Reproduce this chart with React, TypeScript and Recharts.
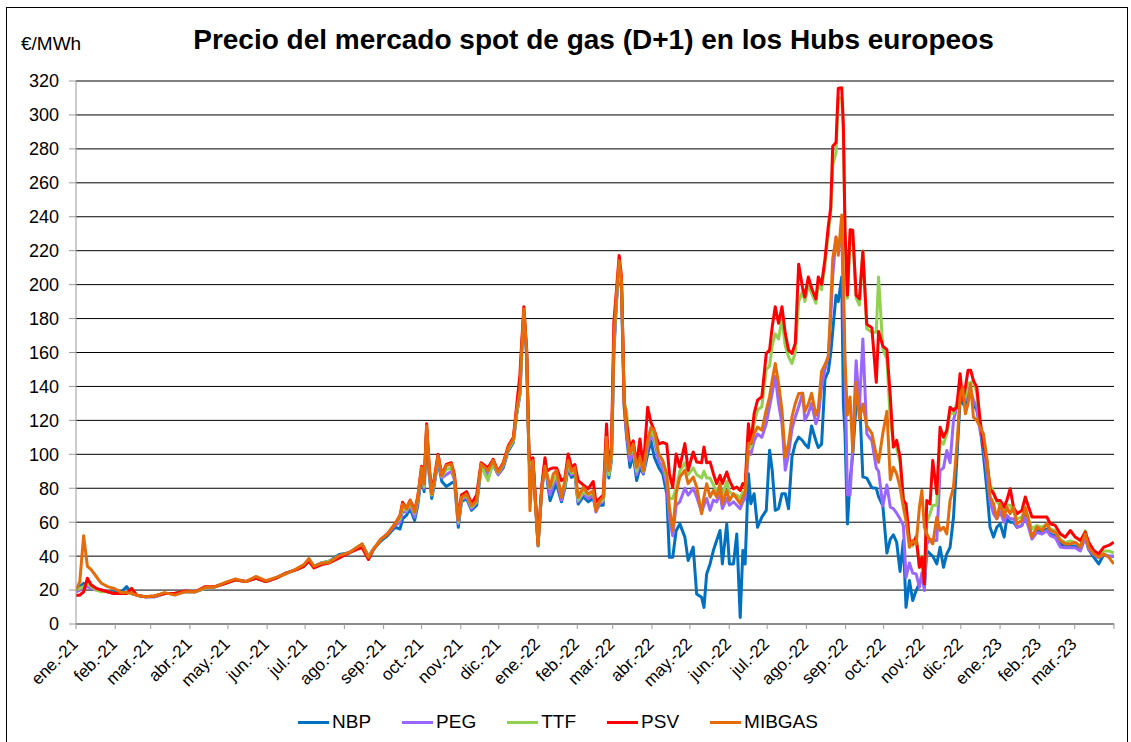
import React from "react";
import { LineChart, Line, XAxis, YAxis, CartesianGrid } from "recharts";

// day index since 1 Jan 2021 for each sampled point
const days = [
  0, 3, 6, 9, 12, 16, 20, 25, 30, 36,
  40, 44, 48, 55, 62, 70, 78, 86, 94, 102,
  110, 118, 126, 134, 142, 150, 158, 166, 174, 180,
  184, 188, 194, 200, 208, 216, 222, 226, 231, 235,
  241, 246, 252, 256, 258, 261, 264, 267.5, 270, 273,
  275, 277, 279, 281, 283, 286, 289, 292.5, 296.5, 299,
  302, 304.5, 308.5, 312.5, 316.5, 320, 325.5, 329.5, 333.5, 337.5,
  341.5, 345.5, 348, 350.7, 352, 353.8, 356, 357.8, 358.6, 361,
  365, 368, 370.5, 372, 374.5, 377, 379.6, 383.5, 386.2, 388.8,
  391.4, 394.1, 396.7, 400.7, 404.6, 408.6, 410.7, 413.8, 416.5, 419.1,
  420.9, 423, 424.9, 427, 429.1, 430.9, 433.1, 435, 437.6, 440.2,
  442.9, 445.5, 448.2, 451.6, 454.2, 456.9, 460.3, 463.5, 466.7, 468.8,
  471.4, 474.1, 477, 481, 483.6, 487.6, 490.3, 494.2, 496.1, 498.2,
  500.9, 503.5, 506.1, 508.8, 510.6, 514.1, 516.2, 519.4, 522, 524.7,
  526.8, 528.6, 531.2, 533.1, 535.7, 538.4, 541.8, 545.3, 547.9, 550,
  552.4, 555, 557.7, 560.3, 562.9, 565.6, 568.2, 570.9, 574, 575.8,
  578.5, 581.1, 584.5, 586.4, 589, 591.7, 594.3, 596.2, 597.8, 600.4,
  602.2, 604.9, 606.2, 607.5, 609.4, 611.5, 613.6, 616.3, 618.9, 621.6,
  624.7, 628.7, 632.2, 634, 637.4, 640.6, 643.3, 645.7, 648.3, 651,
  653.6, 655.7, 658.4, 661, 663.7, 666.3, 668.2, 670.2, 672.1, 674.7,
  676.8, 680, 682.6, 685.3, 687.9, 690.5, 693.2, 695.8, 698.4, 700.5,
  702.6, 704.7, 706.8, 708.9, 711.6, 714.2, 716.8, 719.5, 722.1, 724.8,
  727.4, 730.1, 733.2, 735.3, 738, 740.6, 743.3, 747.2, 749.9, 752.5,
  755.2, 759.1, 763.1, 767, 769.7, 773.6, 777.6, 781.5, 785.5, 789.4,
  793.4, 797.3, 800, 804, 807.9, 811.9, 815.8, 819.8,
];

const nbp = [
  20, 22, 24, 23, 22, 21, 20, 19, 19, 19,
  22, 18, 17, 16, 16, 18, 18, 19, 19, 21,
  22, 24, 26, 25, 27, 25, 27, 30, 32, 34,
  37, 34, 36, 37, 41, 42, 45, 47, 40, 44,
  49, 52, 57, 56, 62, 64, 68, 61, 70, 88,
  78, 112, 88, 74, 82, 96, 84, 81, 83, 84,
  57, 72, 74, 67, 70, 92, 88, 94, 88, 92,
  102, 107, 123, 135, 158, 182, 158, 99, 90, 95,
  46, 79, 94, 86, 72.7, 78, 82.5, 72, 80, 92,
  86.4, 88, 70.7, 75, 72, 74, 68, 70, 70, 104,
  86, 96, 160, 190, 210, 198, 127, 110, 92.3, 100,
  84.5, 92, 88.4, 100, 108, 98.2, 92.3, 88.4, 76.6, 39.3,
  39.3, 55, 59, 51.2, 37.4, 45.3, 17.7, 15.7, 9.8, 29.5,
  35.4, 43.3, 49.2, 55.1, 35.4, 59, 35.4, 35.4, 53.1, 3.9,
  43.3, 35.4, 88.6, 70.9, 76.8, 57, 63, 67, 102.4, 90.6,
  67, 68, 76.8, 76.8, 68, 98.4, 106.3, 110.2, 108, 106,
  103.9, 116.7, 108, 104, 106, 144.5, 148.8, 159.5, 172.4, 193.8,
  190, 204.5, 129.6, 112.4, 58.9, 84.6, 100, 129.6, 133.8, 86.7,
  86, 80.3, 80, 75, 69.6, 41.8, 50, 52.5, 48.2, 31,
  49.2, 9.8, 25.6, 13.8, 19.7, 24, 27.5, 22, 43.3, 41.3,
  40, 35.4, 45.2, 33.4, 41.3, 45.2, 62.9, 96.4, 131.8, 130,
  128, 135, 136, 130, 126, 116, 100, 80, 57, 51.2,
  57, 59, 51.2, 62, 60, 60, 57, 58, 64, 58,
  52, 55, 54, 56, 53, 52, 47, 46, 46, 46,
  44, 51, 44, 39.4, 35.4, 41, 40, 40,
];

const peg = [
  19, 20, 21, 22, 21, 20, 20, 19, 18, 18,
  19, 19, 17, 16, 16, 18, 18, 19, 19, 21,
  22, 24, 26, 25, 27, 25, 27, 30, 32, 34,
  37, 34, 36, 37, 40, 42, 45, 47, 40, 44,
  50, 53, 58, 60, 66, 66, 70, 63, 72, 90,
  80, 114, 90, 76, 83, 97, 86, 88, 90, 85,
  59, 73, 75, 68, 72, 93, 88, 95, 88, 93,
  103, 108, 124, 136, 159, 183, 159, 100, 92, 96,
  47, 80, 96, 87, 76, 82, 86, 73, 82, 94,
  88, 90, 72, 77, 74, 76, 66, 71, 72, 106,
  88, 98, 162, 192, 211, 199, 129, 112, 96, 102,
  88, 95, 89, 104, 112, 108, 96, 92, 82, 62,
  52, 70, 72, 80, 76, 80, 75, 66, 70, 74,
  67, 73, 72, 77, 68, 74, 70, 72, 70, 68,
  72, 74, 102, 100, 108, 112, 110, 118, 128, 136,
  146, 130, 118, 90.6, 100, 115, 122, 128, 136, 120,
  124, 130, 118, 122, 140, 150, 158, 180, 205, 228,
  220, 232, 190, 150, 76, 76, 105, 155.2, 128, 168,
  112, 108, 92, 90, 69.6, 82, 68.8, 68, 65.3, 62,
  58, 27.5, 36, 30, 29.5, 21.6, 30, 19.7, 47, 50,
  49.2, 49.2, 90.5, 92, 102.3, 95, 120, 128, 138, 135,
  132, 140, 138, 132, 128, 114, 106, 90, 72, 65,
  62, 66, 60, 64, 62, 62, 57, 58, 63, 57,
  50, 54, 53, 55, 52, 51, 45.3, 45, 45, 45,
  43, 51, 44, 41, 39, 41, 40, 40,
];

const ttf = [
  20, 21, 22, 24, 22, 20, 19, 19, 18, 18,
  19, 19, 17, 16, 16.5, 18, 18, 19, 19, 21,
  22, 24, 26, 25, 27, 25, 27, 30, 32, 34,
  38, 34, 36, 37, 40, 42, 45, 47, 40, 44,
  50, 53, 59, 62, 69, 67, 71, 65, 73, 92,
  81, 116, 92, 76, 84, 98, 87, 91, 92, 86,
  60, 74, 76, 69, 72, 93, 84.5, 95, 89, 94,
  103, 108, 124, 136, 160, 184, 160, 100, 94, 96,
  47, 80, 96, 88, 80, 84, 88, 76, 82, 95,
  89, 90, 73, 78, 76, 78, 68, 72, 73, 108,
  88, 98, 165, 193, 213, 200, 130.6, 125, 100, 104,
  90, 98, 90, 108, 114, 110, 100, 96, 86, 74,
  74, 80, 90, 95, 88, 92, 88, 86, 90, 86,
  86, 82, 78, 82, 76, 84, 78, 76, 76, 74,
  78, 78, 112, 104, 118, 126, 128, 150, 152, 164,
  171, 168, 180, 164, 157.5, 153.5, 160, 190, 196, 190,
  200, 195, 189, 200, 197, 212, 230, 242, 270, 278,
  310, 310, 290, 230, 192, 228, 228, 192, 188, 220,
  174, 172, 172, 204.5, 162, 156, 120, 108, 104, 95,
  74, 68, 48, 46, 52, 33.4, 40, 26, 60, 65,
  70, 70, 108.2, 106, 112, 124, 124, 130, 140, 136,
  134, 142, 142, 143.6, 136, 118, 110, 96, 82, 78,
  72, 70, 66, 70, 70, 66, 62, 63, 68, 62,
  56, 58, 57, 59, 56, 55, 50, 48, 49, 48,
  46, 55, 46, 42, 40, 43, 43, 42,
];

const psv = [
  17, 17, 19, 27, 23, 21, 20, 19, 18, 18,
  18, 21, 17, 16, 16.5, 18, 18, 19.5, 19, 22,
  22, 24, 26, 25, 27, 25, 27, 30, 32, 34,
  37, 33, 35, 36, 39, 42, 44, 45, 38, 44,
  50, 53, 59, 64, 71.7, 68, 73, 67, 75, 93,
  83, 118, 93, 78, 86, 100, 88, 94, 95, 88,
  62, 76, 78, 71, 76, 95, 92, 97, 90, 95,
  105, 110, 128, 147, 165, 187, 162, 102, 97, 98,
  48, 82, 98, 90, 91.4, 92, 92, 84.5, 86, 100.2,
  92.3, 94, 84.5, 82, 79.6, 84, 72, 74, 76, 117.9,
  92, 104, 177.8, 197.4, 217.1, 205, 129.7, 118, 104, 108,
  94, 109, 92, 127.7, 118.9, 114, 106, 107, 106, 88.4,
  80.5, 100.2, 92.5, 106.3, 90.6, 101.4, 95.5, 95, 104.3, 95,
  95.5, 88.6, 82.7, 87.6, 82.7, 89.6, 84.6, 79.7, 80.7, 78.7,
  82.7, 81.7, 118, 106.3, 124, 131.9, 133.9, 159.4, 161.4, 175.2,
  187, 177.2, 187, 171.3, 161.4, 159.4, 165.4, 212, 198, 192.7,
  204.5, 198, 191.6, 204.5, 200.2, 215.2, 234.5, 245.2, 281.6, 283.7,
  315.8, 316, 294.4, 232.3, 193.8, 232.3, 232, 193.8, 191.6, 219.5,
  176.7, 174.5, 142.4, 172.4, 163.8, 161.7, 133.7, 104.2, 108.2, 98.3,
  72.8, 70.8, 49.2, 47.2, 51.1, 33.4, 39.3, 23.6, 72.8, 70.8,
  96.4, 76.7, 116, 110.1, 114.1, 127.8, 125.9, 127.8, 147.5, 131.8,
  139.6, 149.5, 149.5, 143.6, 139.6, 120, 106.2, 96.4, 79.7, 76.8,
  72.8, 72.8, 68.9, 72.8, 79.7, 68.9, 65, 66.9, 74.8, 68.9,
  63, 63, 63, 63, 59.1, 58.1, 53.1, 51.2, 55.1, 51.2,
  49.2, 54.1, 48.2, 43.3, 41.3, 45.3, 46.3, 48.2,
];

const mibgas = [
  20, 25, 52, 34, 32, 28, 24, 22, 21, 18.5,
  18.5, 18, 17, 16, 16.5, 18.5, 17, 19, 19, 21.5,
  22, 24.5, 26.6, 25, 28, 25.5, 27.5, 29.6, 32.5, 35,
  38.6, 34, 35.8, 36.3, 40.3, 42.2, 45.2, 47.2, 39.3, 44.2,
  50, 53, 59, 63.9, 70.7, 67.8, 72.7, 65.8, 74.7, 92.3,
  82.5, 116.9, 92.3, 76.6, 84.5, 99.2, 87.4, 93.3, 94.3, 86.4,
  60.9, 74.7, 76.6, 69.7, 72.7, 94.3, 90.4, 96.3, 89.4, 94.3,
  104.1, 109, 125.7, 137.5, 161.1, 185.7, 161.1, 100.2, 66.8, 96.3,
  46.2, 80.5, 93, 88.4, 80.5, 88.4, 90.4, 74.7, 84.5, 96.3,
  90, 92.3, 74.7, 80.5, 76.6, 78.6, 66.8, 72.7, 74.7, 110,
  90.4, 100.2, 167, 194.5, 214.1, 202.4, 131.6, 114, 100.2, 106.1,
  92.3, 98.2, 90.4, 108, 115.9, 114, 100.2, 96.3, 88.4, 68.8,
  55, 76.6, 86.6, 90.6, 82.7, 86.6, 80.7, 65, 74.8, 82.7,
  74.8, 78.7, 74.8, 82.7, 70.9, 78.7, 72.8, 76.8, 73.9, 70.9,
  74.8, 77.8, 106.3, 106.3, 112.2, 116.1, 114.2, 126, 133.9, 143.7,
  153.5, 141.7, 126, 98.4, 106.3, 122, 130, 135.8, 136, 125.3,
  129.6, 136, 123.1, 127, 148.8, 153, 157.4, 187.4, 215.2, 228,
  217.3, 241, 206.6, 155.2, 123.1, 133.8, 101.7, 142.4, 121, 129.6,
  116.7, 112.4, 99.6, 95.3, 112.4, 125.3, 85, 92.4, 88.5, 80.6,
  68.8, 61, 45.2, 49.2, 47, 68.8, 78.7, 57, 53.1, 49.2,
  47.2, 62.9, 55.1, 57, 53.1, 72.8, 80.6, 104.2, 133.7, 139.6,
  123.9, 129.8, 141.6, 121.9, 120, 116, 112.1, 98.3, 75, 71,
  62, 70.9, 63, 69, 65, 68.9, 59.1, 61, 68.9, 61,
  51.2, 57.1, 55.1, 59.1, 55.1, 54, 49.2, 47.2, 47.2, 48.2,
  45.3, 53.1, 45.3, 41.3, 39.4, 41.3, 39.4, 35.4,
];

// first day of each month (days since 1 Jan 2021), plus the end of the range
const monthStarts = [
  0, 31, 59, 90, 120, 151, 181, 212, 243, 273, 304, 334,
  365, 396, 424, 455, 485, 516, 546, 577, 608, 638, 669, 699,
  730, 761, 789, 820,
];
const monthLabels = [
  "ene.-21", "feb.-21", "mar.-21", "abr.-21", "may.-21", "jun.-21", "jul.-21", "ago.-21",
  "sep.-21", "oct.-21", "nov.-21", "dic.-21", "ene.-22", "feb.-22", "mar.-22", "abr.-22",
  "may.-22", "jun.-22", "jul.-22", "ago.-22", "sep.-22", "oct.-22", "nov.-22", "dic.-22",
  "ene.-23", "feb.-23", "mar.-23", "",
];
const yTicks = [0, 20, 40, 60, 80, 100, 120, 140, 160, 180, 200, 220, 240, 260, 280, 300, 320];

const series = [
  { key: "NBP", color: "#0070C0" },
  { key: "PEG", color: "#9966FF" },
  { key: "TTF", color: "#92D050" },
  { key: "PSV", color: "#FF0000" },
  { key: "MIBGAS", color: "#E46C0A" },
];

const data = days.map((d, i) => ({
  day: d,
  NBP: nbp[i],
  PEG: peg[i],
  TTF: ttf[i],
  PSV: psv[i],
  MIBGAS: mibgas[i],
}));

const FONT = 'Arial, "Liberation Sans", sans-serif';

const MonthTick = ({ x, y, payload }: any) => {
  const i = monthStarts.indexOf(payload.value);
  const px = x + 3;
  const py = y + 16;
  return (
    <text
      x={px}
      y={py}
      transform={`rotate(-45 ${px} ${py})`}
      textAnchor="end"
      fontSize={17}
      fontFamily={FONT}
      fill="#000"
    >
      {monthLabels[i]}
    </text>
  );
};

export default function App() {
  return (
    <div
      style={{
        position: "absolute",
        left: 0,
        top: 0,
        width: 1131,
        height: 742,
        background: "#fff",
        overflow: "hidden",
        fontFamily: FONT,
      }}
    >
      <div
        style={{
          position: "absolute",
          left: 6,
          top: 7,
          width: 1120,
          height: 760,
          border: "1px solid #000",
        }}
      />
      <div style={{ position: "absolute", left: 21, top: 33, fontSize: 19, color: "#000" }}>€/MWh</div>
      <div
        style={{
          position: "absolute",
          left: 0,
          width: 1187,
          top: 24,
          textAlign: "center",
          fontSize: 28,
          fontWeight: "bold",
          color: "#000",
        }}
      >
        Precio del mercado spot de gas (D+1) en los Hubs europeos
      </div>

      <div style={{ position: "absolute", left: 0, top: 0 }}>
        <LineChart
          width={1131}
          height={742}
          data={data}
          margin={{ top: 81, right: 17, bottom: 48, left: 0 }}
        >
          <CartesianGrid vertical={false} stroke="#000" strokeWidth={1} />
          <XAxis
            dataKey="day"
            type="number"
            domain={[0, 820]}
            ticks={monthStarts}
            interval={0}
            height={70}
            stroke="#999"
            tickSize={5}
            tickMargin={0}
            tick={<MonthTick />}
            allowDataOverflow
          />
          <YAxis
            domain={[0, 320]}
            ticks={yTicks}
            interval={0}
            width={76}
            stroke="#999"
            tickSize={7}
            tickMargin={10}
            tick={{ fill: "#000", fontSize: 18, fontFamily: FONT }}
          />
          {series.map((s) => (
            <Line
              key={s.key}
              type="linear"
              dataKey={s.key}
              stroke={s.color}
              strokeWidth={3}
              dot={false}
              activeDot={false}
              strokeLinejoin="round"
              isAnimationActive={false}
            />
          ))}
        </LineChart>
      </div>

      <div
        style={{
          position: "absolute",
          left: 298,
          top: 711,
          display: "flex",
          alignItems: "center",
          fontSize: 19,
          color: "#000",
        }}
      >
        {series.map((s) => (
          <div key={s.key} style={{ display: "flex", alignItems: "center", marginRight: 31 }}>
            <div style={{ width: 31, height: 3, background: s.color, marginRight: 3 }} />
            <span>{s.key}</span>
          </div>
        ))}
      </div>
    </div>
  );
}
